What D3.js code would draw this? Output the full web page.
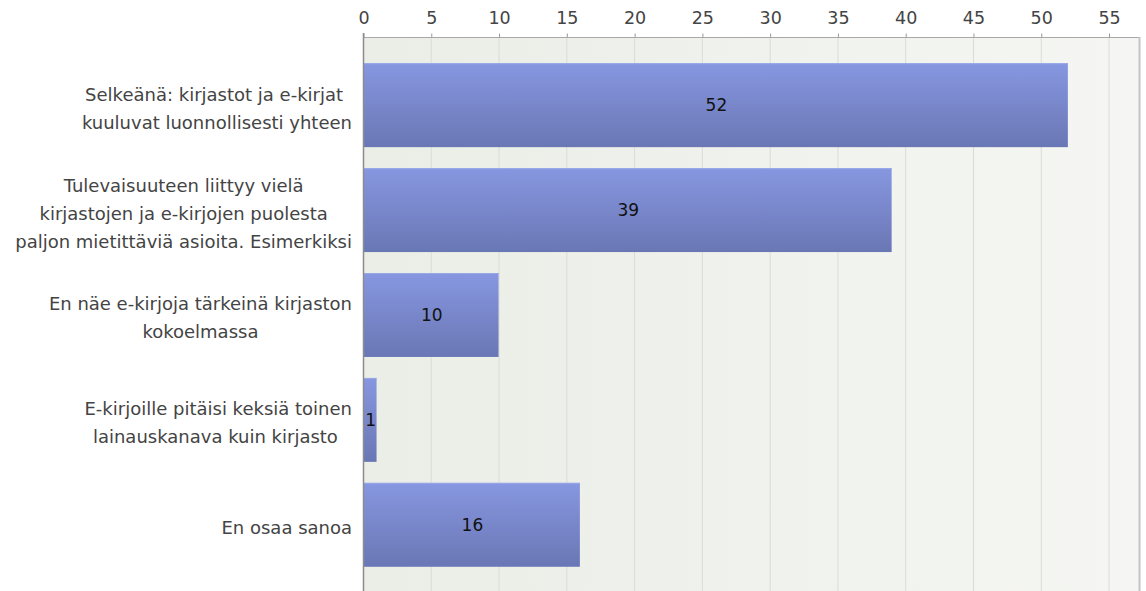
<!DOCTYPE html>
<html>
<head>
<meta charset="utf-8">
<script src="https://cdn.jsdelivr.net/npm/d3@7"></script>
<style>
  body { margin: 0; background: #fff; }
  svg { display: block; font-family: "DejaVu Sans", Verdana, sans-serif; }
</style>
</head>
<body>
<svg id="chart" width="1146" height="591"></svg>
<script>
// Answer options, one entry per line of the wrapped label.
const categories = [
  ['Selkeänä: kirjastot ja e-kirjat ', 'kuuluvat luonnollisesti yhteen'],
  ['Tulevaisuuteen liittyy vielä', 'kirjastojen ja e-kirjojen puolesta', 'paljon mietittäviä asioita. Esimerkiksi'],
  ['En näe e-kirjoja tärkeinä kirjaston', 'kokoelmassa'],
  ['E-kirjoille pitäisi keksiä toinen', 'lainauskanava kuin kirjasto '],
  ['En osaa sanoa'],
];
const counts = [52, 39, 10, 1, 16];
const xTicks = [0, 5, 10, 15, 20, 25, 30, 35, 40, 45, 50, 55];

const plot = {left: 363, right: 1139, top: 37, bottom: 600};

const svg = d3.select('#chart');
const defs = svg.append('defs');

// Plot background fades a little lighter toward the right.
const bg = defs.append('linearGradient').attr('id', 'bg-grad')
  .attr('x1', 0).attr('x2', 1).attr('y1', 0).attr('y2', 0);
bg.append('stop').attr('offset', 0).attr('stop-color', '#eaeee6');
bg.append('stop').attr('offset', 1).attr('stop-color', '#f5f6f3');

const barGrad = defs.append('linearGradient').attr('id', 'bar-grad')
  .attr('x1', 0).attr('x2', 0).attr('y1', 0).attr('y2', 1);
barGrad.append('stop').attr('offset', 0).attr('stop-color', '#8797e0');
barGrad.append('stop').attr('offset', 1).attr('stop-color', '#6a77b5');

const x = d3.scaleLinear()
  .domain([0, 55])
  .range([plot.left, plot.left + 55 * 13.555]);

const y = d3.scaleBand()
  .domain(d3.range(categories.length))
  .range([plot.top, 593])
  .paddingInner(0.2)
  .paddingOuter(0.25);

svg.append('rect')
  .attr('x', plot.left)
  .attr('y', plot.top)
  .attr('width', plot.right - plot.left)
  .attr('height', plot.bottom - plot.top)
  .attr('fill', 'url(#bg-grad)');

// Vertical grid lines.
svg.append('g')
  .selectAll('line')
  .data(xTicks.filter((d) => d > 0))
  .join('line')
  .attr('x1', (d) => x(d) + 0.5)
  .attr('x2', (d) => x(d) + 0.5)
  .attr('y1', plot.top)
  .attr('y2', plot.bottom)
  .attr('stroke', '#dadcd8')
  .attr('stroke-width', 1);

// Top axis with ticks poking above the plot frame.
const xAxis = d3.axisTop(x).tickValues(xTicks).tickSize(4).tickPadding(10);
const axisG = svg.append('g')
  .attr('transform', `translate(0.5,${plot.top + 0.5})`)
  .call(xAxis);
axisG.select('.domain').remove();
axisG.selectAll('.tick line').attr('stroke', '#999');
axisG.selectAll('.tick text')
  .attr('fill', '#444')
  .style('font-size', '17.5px')
  .style('font-family', '"DejaVu Sans", Verdana, sans-serif');

// Frame: top and right edges.
svg.append('line')
  .attr('x1', plot.left).attr('x2', plot.right + 1)
  .attr('y1', plot.top + 0.5).attr('y2', plot.top + 0.5)
  .attr('stroke', '#a8a8a8');
svg.append('line')
  .attr('x1', plot.right + 0.5).attr('x2', plot.right + 0.5)
  .attr('y1', plot.top).attr('y2', plot.bottom)
  .attr('stroke', '#c4c4c4').attr('stroke-width', 2);

// Bars.
const bars = svg.append('g')
  .selectAll('g')
  .data(counts)
  .join('g');

bars.append('rect')
  .attr('x', x(0))
  .attr('y', (d, i) => y(i))
  .attr('width', (d) => x(d) - x(0))
  .attr('height', y.bandwidth())
  .attr('fill', 'url(#bar-grad)');

bars.append('line')
  .attr('x1', x(0))
  .attr('x2', (d) => x(d))
  .attr('y1', (d, i) => y(i) + 0.5)
  .attr('y2', (d, i) => y(i) + 0.5)
  .attr('stroke', '#9aa8e8');

bars.append('text')
  .attr('x', (d) => (x(0) + x(d)) / 2 + 1)
  .attr('y', (d, i) => y(i) + y.bandwidth() / 2)
  .attr('dy', '0.36em')
  .attr('text-anchor', 'middle')
  .attr('fill', '#111')
  .style('font-size', '17px')
  .text((d) => d);

// Left axis line.
svg.append('line')
  .attr('x1', plot.left + 0.5).attr('x2', plot.left + 0.5)
  .attr('y1', plot.top - 4).attr('y2', plot.bottom)
  .attr('stroke', '#8c8c8c').attr('stroke-width', 1.5);

// Category labels: block right-aligned, lines centred inside it.
const labelRight = 352;
const lineHeight = 28;
categories.forEach((lines, i) => {
  const g = svg.append('g');
  const texts = g.selectAll('text')
    .data(lines)
    .join('text')
    .attr('fill', '#444')
    .style('font-size', '18px')
    .style('white-space', 'pre')
    .attr('text-anchor', 'middle')
    .text((d) => d);
  const widths = texts.nodes().map((n) => n.getComputedTextLength());
  const blockW = d3.max(widths);
  const cx = labelRight - blockW / 2;
  const cy = y(i) + y.bandwidth() / 2 + 3;
  const top = cy - ((lines.length - 1) * lineHeight) / 2;
  texts
    .attr('x', cx)
    .attr('y', (d, j) => top + j * lineHeight)
    .attr('dy', '0.36em');
});
</script>
</body>
</html>
